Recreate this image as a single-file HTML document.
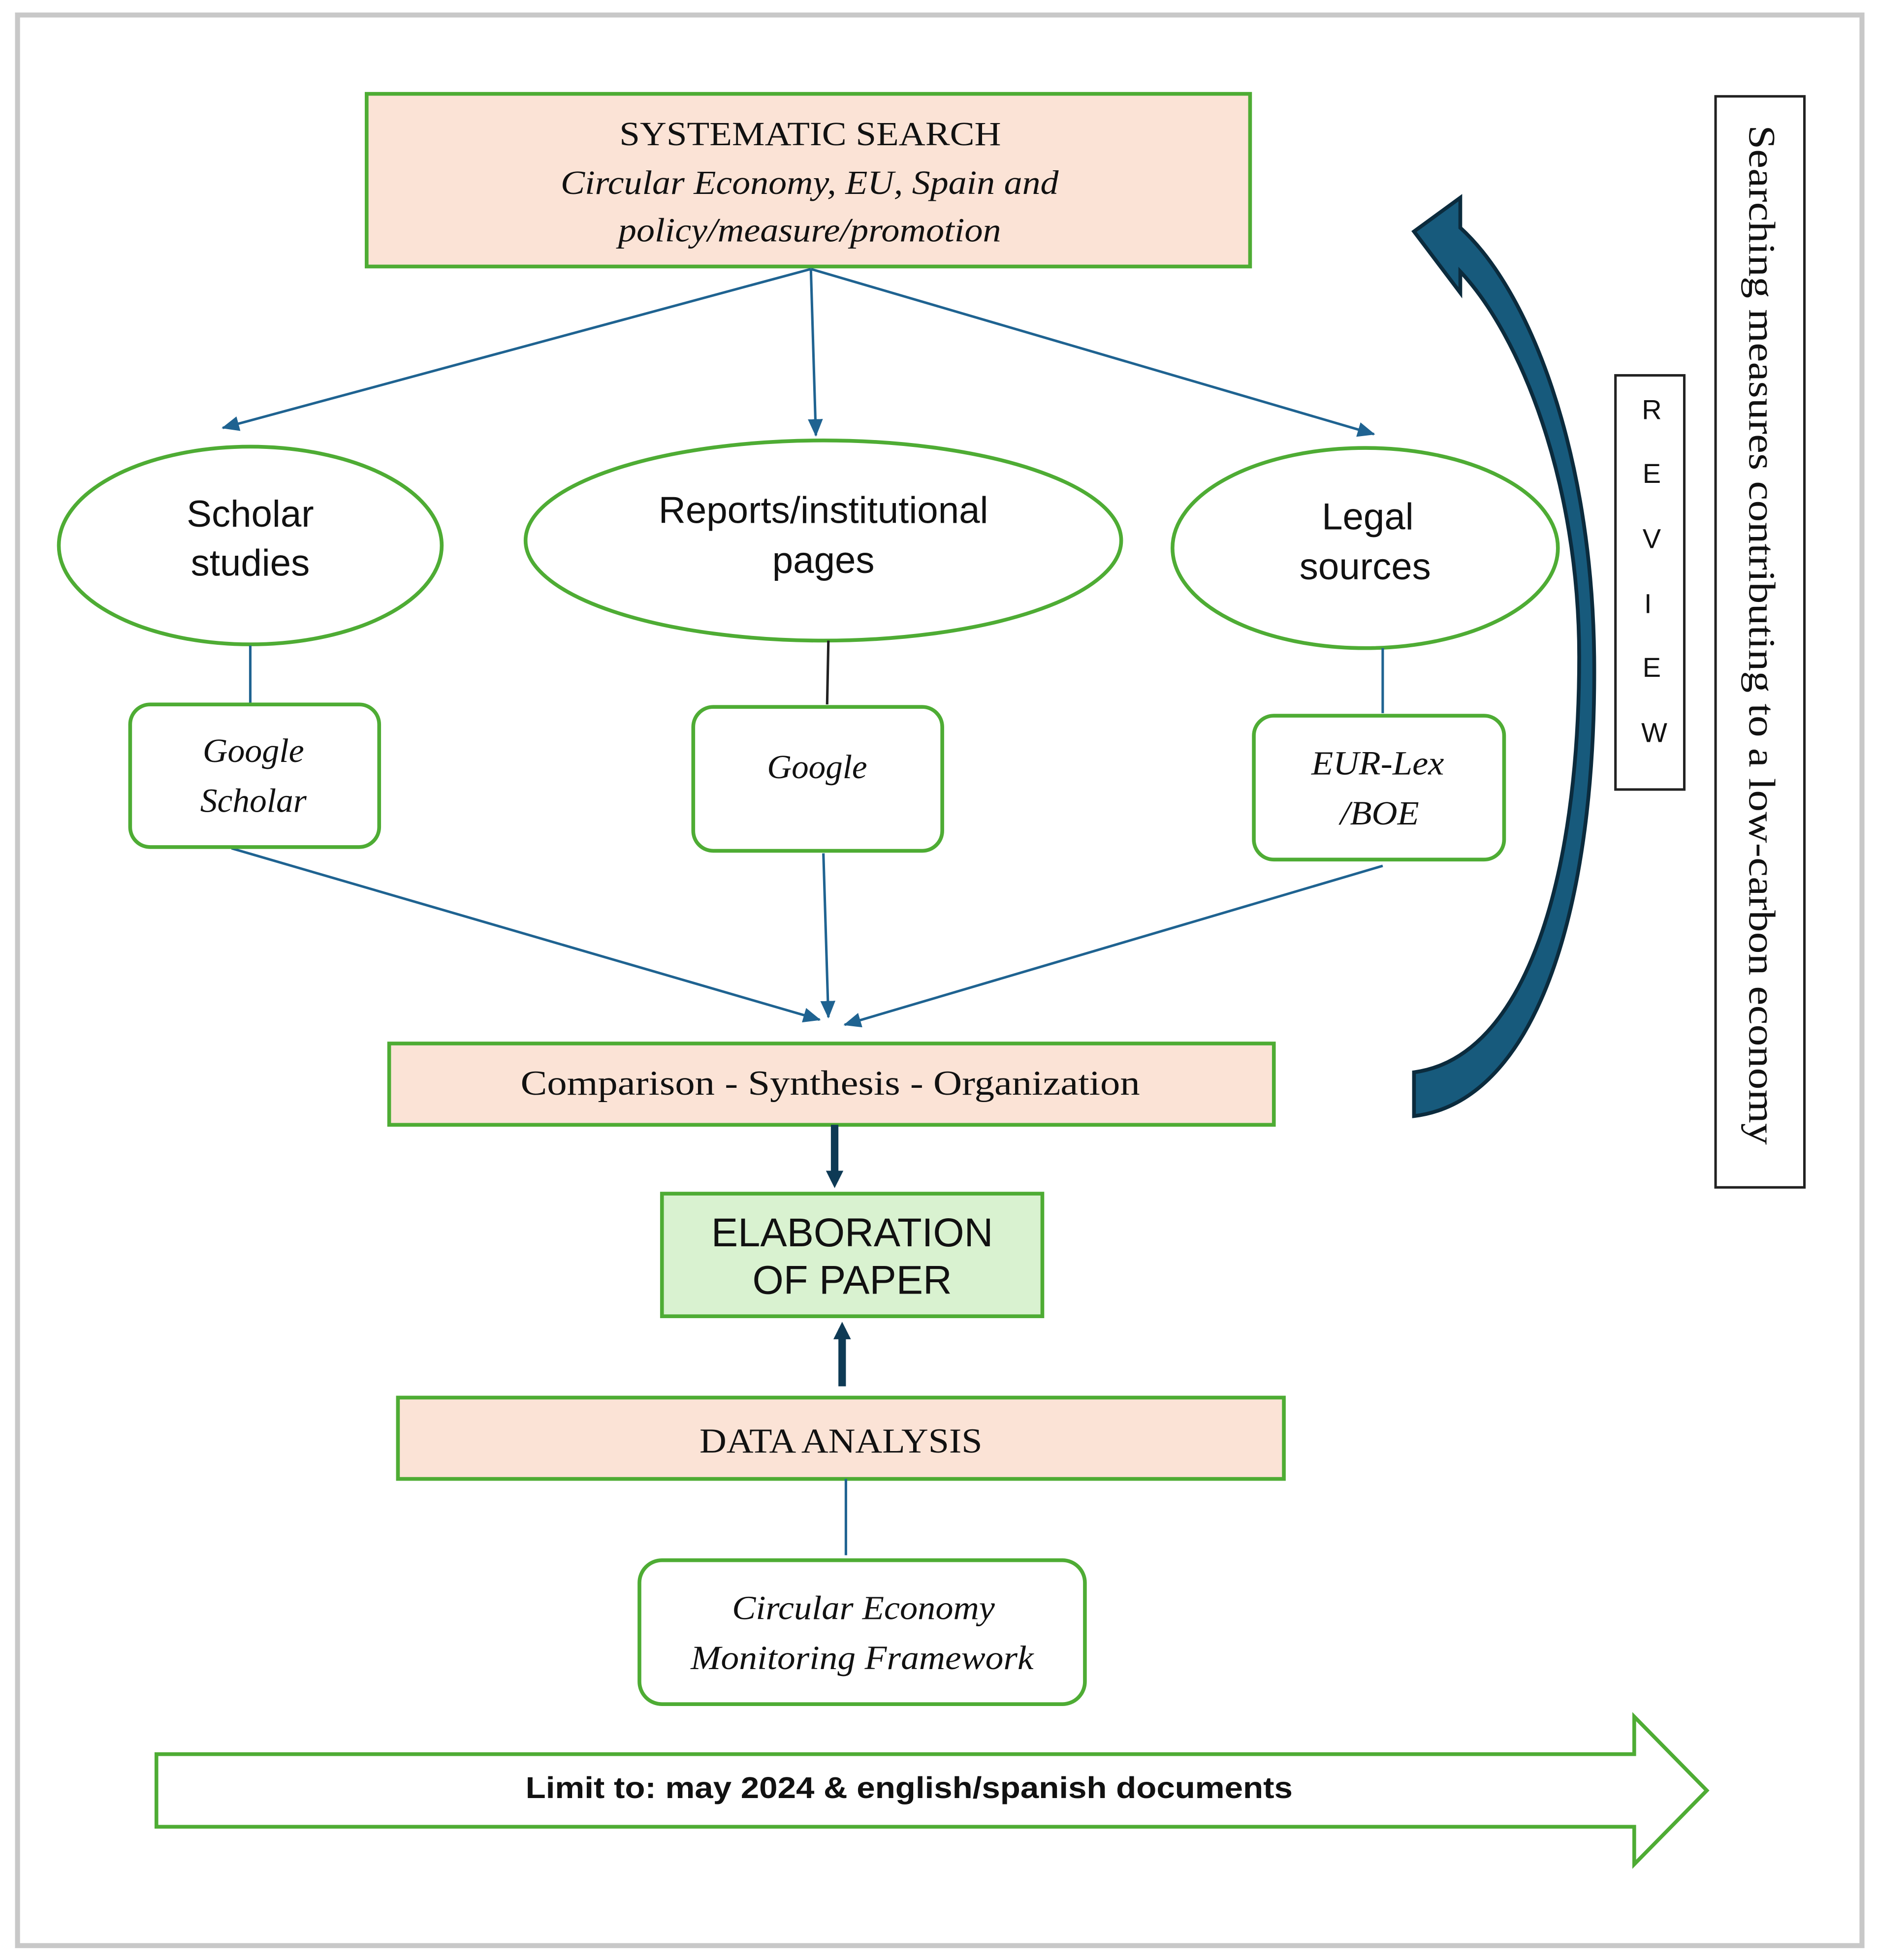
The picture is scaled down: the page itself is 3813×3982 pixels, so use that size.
<!DOCTYPE html>
<html><head><meta charset="utf-8"><style>
html,body{margin:0;padding:0;background:#fff}
svg{display:block}
.s{font-family:"Liberation Serif",serif;fill:#111}
.a{font-family:"Liberation Sans",sans-serif;fill:#111}
</style></head><body>
<svg width="3813" height="3982" viewBox="0 0 1500 1566.5" xmlns="http://www.w3.org/2000/svg">
<defs>
<marker id="ah" markerWidth="14" markerHeight="12" refX="13" refY="6" orient="auto" markerUnits="userSpaceOnUse" viewBox="0 0 14 12">
<path d="M0,0 L14,6 L0,12 z" fill="#1f6391"/></marker>
<marker id="ah2" markerWidth="14" markerHeight="14" refX="6" refY="5" orient="auto" markerUnits="userSpaceOnUse" viewBox="0 0 10 10">
<path d="M0,0 L10,5 L0,10 z" fill="#0e3a55"/></marker>
</defs>
<rect x="0" y="0" width="1500" height="1567" fill="#fff"/>
<rect x="14" y="12" width="1474" height="1543" fill="none" stroke="#c8c8c8" stroke-width="4"/>

<rect x="293" y="75" width="706" height="138" fill="#fbe3d6" stroke="#4eac34" stroke-width="3"/>
<text class="s" x="495" y="116" font-size="27" textLength="305" lengthAdjust="spacingAndGlyphs">SYSTEMATIC SEARCH</text>
<text class="s" x="448" y="155" font-size="27" font-style="italic" textLength="398" lengthAdjust="spacingAndGlyphs">Circular Economy, EU, Spain and</text>
<text class="s" x="494" y="193" font-size="27" font-style="italic" textLength="306" lengthAdjust="spacingAndGlyphs">policy/measure/promotion</text>

<g stroke="#1f6391" stroke-width="2" fill="none" marker-end="url(#ah)">
<line x1="648" y1="215" x2="178" y2="342"/>
<line x1="648" y1="215" x2="652" y2="348"/>
<line x1="648" y1="215" x2="1098" y2="347"/>
<line x1="185" y1="678" x2="655" y2="815"/>
<line x1="658" y1="682" x2="662" y2="813"/>
<line x1="1105" y1="692" x2="675" y2="819"/>
</g>

<g fill="#fff" stroke="#4eac34" stroke-width="3">
<ellipse cx="200" cy="436" rx="153" ry="79"/>
<ellipse cx="658" cy="432" rx="238" ry="80"/>
<ellipse cx="1091" cy="438" rx="154" ry="80"/>
</g>
<text class="a" x="200" y="421" font-size="30" text-anchor="middle">Scholar</text>
<text class="a" x="200" y="460" font-size="30" text-anchor="middle">studies</text>
<text class="a" x="658" y="418" font-size="30" text-anchor="middle">Reports/institutional</text>
<text class="a" x="658" y="458" font-size="30" text-anchor="middle">pages</text>
<text class="a" x="1093" y="423" font-size="30" text-anchor="middle">Legal</text>
<text class="a" x="1091" y="463" font-size="30" text-anchor="middle">sources</text>

<line x1="200" y1="516" x2="200" y2="563" stroke="#1f6391" stroke-width="2"/>
<line x1="662" y1="512" x2="661" y2="563" stroke="#222" stroke-width="2"/>
<line x1="1105" y1="518" x2="1105" y2="570" stroke="#1f6391" stroke-width="2"/>

<g fill="#fff" stroke="#4eac34" stroke-width="3">
<rect x="104" y="563" width="199" height="114" rx="16"/>
<rect x="554" y="565" width="199" height="115" rx="16"/>
<rect x="1002" y="572" width="200" height="115" rx="16"/>
<rect x="511" y="1247" width="356" height="115" rx="18"/>
</g>
<text class="s" x="162" y="609" font-size="27" font-style="italic" textLength="81" lengthAdjust="spacingAndGlyphs">Google</text>
<text class="s" x="160" y="649" font-size="27" font-style="italic" textLength="85" lengthAdjust="spacingAndGlyphs">Scholar</text>
<text class="s" x="613" y="622" font-size="27" font-style="italic" textLength="80" lengthAdjust="spacingAndGlyphs">Google</text>
<text class="s" x="1048" y="619" font-size="27" font-style="italic" textLength="106" lengthAdjust="spacingAndGlyphs">EUR-Lex</text>
<text class="s" x="1071" y="659" font-size="27" font-style="italic" textLength="63" lengthAdjust="spacingAndGlyphs">/BOE</text>
<text class="s" x="585" y="1294" font-size="27" font-style="italic" textLength="210" lengthAdjust="spacingAndGlyphs">Circular Economy</text>
<text class="s" x="552" y="1334" font-size="27" font-style="italic" textLength="274" lengthAdjust="spacingAndGlyphs">Monitoring Framework</text>

<rect x="311" y="834" width="707" height="65" fill="#fbe3d6" stroke="#4eac34" stroke-width="3"/>
<text class="s" x="416" y="875" font-size="28" textLength="495" lengthAdjust="spacingAndGlyphs">Comparison - Synthesis - Organization</text>

<line x1="667" y1="899" x2="667" y2="944" stroke="#0e3a55" stroke-width="6" marker-end="url(#ah2)"/>
<rect x="529" y="954" width="304" height="98" fill="#d9f2d0" stroke="#4eac34" stroke-width="3"/>
<text class="a" x="681" y="996" font-size="32" text-anchor="middle">ELABORATION</text>
<text class="a" x="681" y="1034" font-size="32" text-anchor="middle">OF PAPER</text>
<line x1="673" y1="1108" x2="673" y2="1062" stroke="#0e3a55" stroke-width="6" marker-end="url(#ah2)"/>

<rect x="318" y="1117" width="708" height="65" fill="#fbe3d6" stroke="#4eac34" stroke-width="3"/>
<text class="s" x="559" y="1161" font-size="28" textLength="226" lengthAdjust="spacingAndGlyphs">DATA ANALYSIS</text>
<line x1="676" y1="1182" x2="676" y2="1243" stroke="#1f6391" stroke-width="2"/>

<path d="M125,1402 L1306,1402 L1306,1372 L1364,1431 L1306,1490 L1306,1460 L125,1460 Z" fill="#fff" stroke="#4eac34" stroke-width="3"/>
<text class="a" x="420" y="1437" font-size="24" font-weight="bold" textLength="613" lengthAdjust="spacingAndGlyphs">Limit to:  may 2024 &amp; english/spanish documents</text>

<path d="M1130,892 C1230,880 1276,720 1274,525 C1272,360 1222,232 1167,182 L1167,158 L1130,185 L1167,234 L1167,217 C1215,268 1262,385 1262,525 C1262,700 1220,845 1130,857 Z" fill="#175a7c" stroke="#0b2b3d" stroke-width="3"/>

<rect x="1291" y="300" width="55" height="331" fill="#fff" stroke="#222" stroke-width="2"/>
<g class="a" font-size="22" text-anchor="middle" fill="#333">
<text x="1320" y="335">R</text><text x="1320" y="386">E</text><text x="1320" y="438">V</text>
<text x="1317" y="490">I</text><text x="1320" y="541">E</text><text x="1322" y="593">W</text>
</g>

<rect x="1371" y="77" width="71" height="872" fill="#fff" stroke="#222" stroke-width="2"/>
<text class="s" x="0" y="0" font-size="30" textLength="815" lengthAdjust="spacingAndGlyphs" transform="translate(1398,100) rotate(90)">Searching measures contributing to a low-carbon economy</text>
</svg>
</body></html>
